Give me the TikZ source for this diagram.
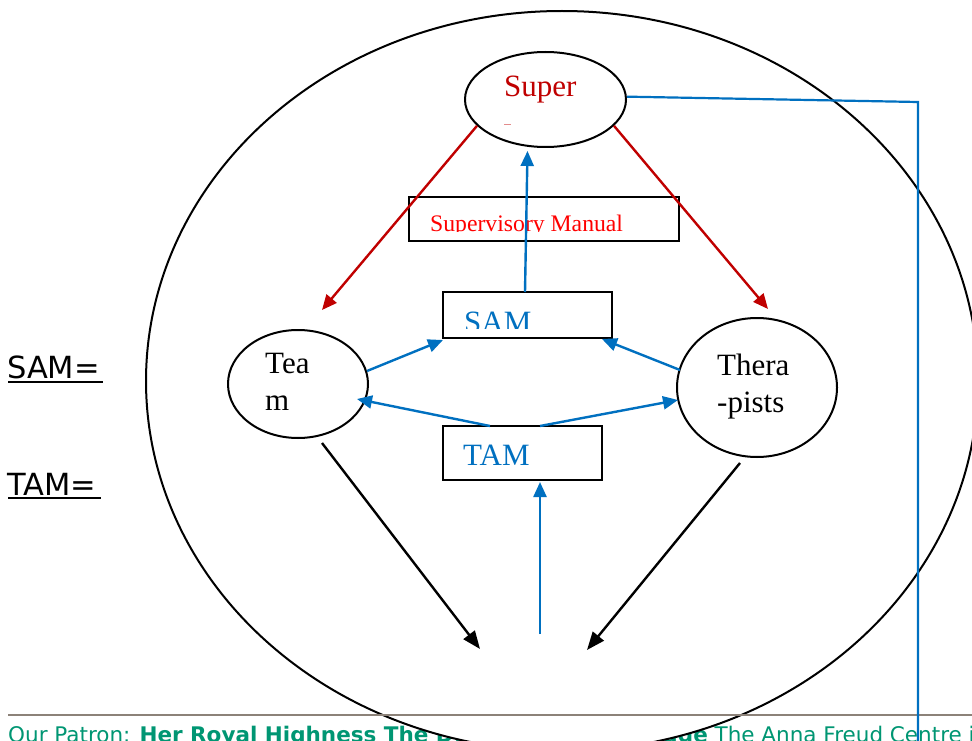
\documentclass[tikz,border=0pt]{standalone}
\usepackage{fontspec}
\setmainfont{Liberation Serif}
\newfontfamily\footfont{DejaVu Sans}
\usetikzlibrary{shapes.geometric,arrows.meta}
\definecolor{myblue}{HTML}{0070C0}
\definecolor{darkred}{HTML}{C00000}
\definecolor{brightred}{HTML}{FF0000}
\definecolor{footteal}{RGB}{0,150,115}
\definecolor{rulegray}{RGB}{140,130,121}
\begin{document}
\begin{tikzpicture}[x=1pt,y=-1pt,
  oval/.style={ellipse,draw=black,line width=2pt,fill=white,inner sep=0pt},
  boxnode/.style={rectangle,draw=black,line width=2pt,inner sep=0pt},
  bigtxt/.style={font=\fontsize{31}{37}\selectfont,inner sep=0pt,anchor=base west},
  sidetxt/.style={font=\footfont\fontsize{30.5}{36}\selectfont,inner sep=0pt,anchor=base west},
  bluearrow/.style={draw=myblue,line width=2.4pt,-{Triangle[length=15pt,width=13pt]}},
  redarrow/.style={draw=darkred,line width=2.4pt,-{Triangle[length=15pt,width=13pt]}},
  blackarrow/.style={draw=black,line width=2.4pt,-{Triangle[length=18pt,width=14pt]}}]
\useasboundingbox (0,0) rectangle (972,741);
\clip (0,0) rectangle (972,741);
\fill[white] (0,0) rectangle (972,741);

% footer text (partly hidden by the big ellipse)
\node[font=\footfont\fontsize{21.5}{26}\selectfont,text=footteal,inner sep=0pt,anchor=base west] (footer) at (8,742)
  {Our Patron: \textbf{Her Royal Highness The Duchess of Cambridge} The Anna Freud Centre is};

% big ellipse
\node[ellipse,draw=black,line width=2pt,fill=white,inner sep=0pt,minimum width=832,minimum height=740] (outer) at (562,381) {};

% footer rule
\draw[rulegray,line width=1.4pt] (8,715) -- (972,715);

% side labels
\node[sidetxt] (samlabel) at (7,378) {SAM=};
\node[sidetxt] (tamlabel) at (7,495) {TAM=};
\draw[line width=2.2pt] (8,382) -- (103,382);
\draw[line width=2.2pt] (8,498) -- (101,498);

% main nodes
\node[oval,minimum width=161,minimum height=95] (super) at (545.5,99.5) {};
\node[oval,minimum width=140,minimum height=108] (team) at (298,384) {};
\node[oval,minimum width=160,minimum height=139] (ther) at (757,387.5) {};
\node[boxnode,minimum width=270,minimum height=44] (manual) at (544,219) {};
\node[boxnode,fill=white,minimum width=169,minimum height=46] (sam) at (527.5,315) {};
\node[boxnode,fill=white,minimum width=159,minimum height=54] (tam) at (522.5,453) {};

% texts
\node[bigtxt,text=darkred] (supertxt) at (504,97) {Super};
\draw[darkred!45,line width=1pt] (504,124.5) -- (511,124.5);
\node[bigtxt] (teatxt) at (265,373) {Tea};
\node[bigtxt] (mtxt) at (265,410) {m};
\node[bigtxt] (theratxt) at (717,375) {Thera};
\node[bigtxt] (piststxt) at (717,412) {-pists};
\begin{scope}
  \clip (409,197) rectangle (679,231);
  \node[font=\fontsize{23.7}{28}\selectfont,text=brightred,inner sep=0pt,anchor=base west] (manualtxt) at (430,231) {Supervisory Manual};
\end{scope}
\begin{scope}
  \clip (443,292) rectangle (612,328);
  \node[bigtxt,text=myblue] (samtxt) at (464,332.5) {SAM};
\end{scope}
\node[bigtxt,text=myblue] (tamtxt) at (463,465) {TAM};

% free ends
\coordinate (redLtip) at (322,310);
\coordinate (redRtip) at (768,309);
\coordinate (supertip) at (527.5,151);
\coordinate (samstart) at (525,292);
\coordinate (teamstart) at (367,371);
\coordinate (samLtip) at (443,340);
\coordinate (therstart) at (680,370);
\coordinate (samRtip) at (602,339);
\coordinate (tamL) at (490,426);
\coordinate (teamtip) at (357,399);
\coordinate (tamR) at (540,426);
\coordinate (thertip) at (678,400);
\coordinate (bottomstart) at (540,634);
\coordinate (tamtip) at (540,482);
\coordinate (teamout) at (322,443);
\coordinate (leftdown) at (480,649);
\coordinate (therout) at (740,463);
\coordinate (rightdown) at (587,650);
\coordinate (corner) at (918,102);
\coordinate (downend) at (918,745);

% connectors
\draw[redarrow] (super.201) -- (redLtip);
\draw[redarrow] (super.339) -- (redRtip);
\draw[bluearrow] (samstart) -- (supertip);
\draw[bluearrow] (teamstart) -- (samLtip);
\draw[bluearrow] (therstart) -- (samRtip);
\draw[bluearrow] (tamL) -- (teamtip);
\draw[bluearrow] (tamR) -- (thertip);
\draw[bluearrow] (bottomstart) -- (tamtip);
\draw[blackarrow] (teamout) -- (leftdown);
\draw[blackarrow] (therout) -- (rightdown);
\draw[myblue,line width=2.2pt] (super.2) -- (corner) -- (downend);
\end{tikzpicture}
\end{document}
